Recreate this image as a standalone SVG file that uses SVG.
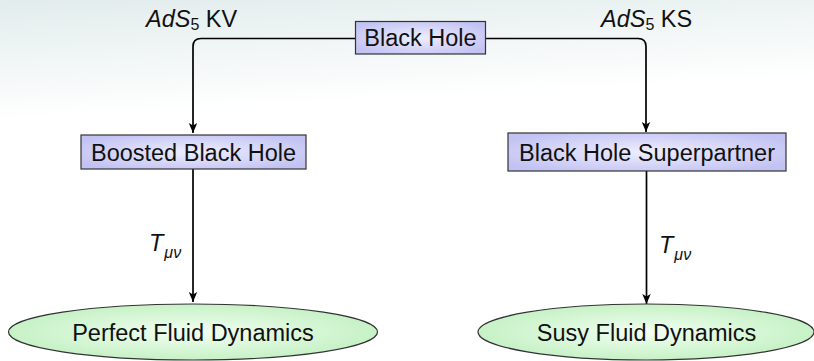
<svg xmlns="http://www.w3.org/2000/svg" width="814" height="361" viewBox="0 0 814 361">
  <defs>
    <linearGradient id="bg" x1="0" y1="0" x2="0.12" y2="1">
      <stop offset="0" stop-color="#e2ecec"/>
      <stop offset="0.33" stop-color="#ffffff"/>
      <stop offset="1" stop-color="#ffffff"/>
    </linearGradient>
    <radialGradient id="boxFill" cx="0.5" cy="0.5" r="0.6">
      <stop offset="0" stop-color="#eeeeff"/>
      <stop offset="1" stop-color="#c2c2f3"/>
    </radialGradient>
    <radialGradient id="fluidFill" cx="0.5" cy="0.5" r="0.55">
      <stop offset="0" stop-color="#f2fff2"/>
      <stop offset="1" stop-color="#c2f0c2"/>
    </radialGradient>
    <marker id="arrow" viewBox="0 0 10 10" refX="10" refY="5" markerWidth="10" markerHeight="10" markerUnits="userSpaceOnUse" orient="auto">
      <path d="M0,0.8 L10,5 L0,9.2 L2.6,5 Z" fill="#000"/>
    </marker>
  </defs>
  <style>
    text { font-family: "Liberation Sans", Arial, sans-serif; fill: #111; }
    .node { font-size: 23.5px; text-anchor: middle; }
    .box { fill: url(#boxFill); stroke: #333; stroke-width: 1.2; }
    .fluid { fill: url(#fluidFill); stroke: #333; stroke-width: 1.2; }
    .edge { fill: none; stroke: #000; stroke-width: 1.7; }
    .lbl { font-size: 23.5px; }
    .it { font-style: italic; }
    .sub { font-size: 16px; }
  </style>

  <rect x="0" y="0" width="814" height="361" fill="url(#bg)"/>

  <g id="connectors">
    <path class="edge" d="M355,38.5 H201 Q193,38.5 193,46.5 V133" marker-end="url(#arrow)"/>
    <path class="edge" d="M486,38.5 H638 Q646,38.5 646,46.5 V132" marker-end="url(#arrow)"/>
    <path class="edge" d="M193,169 V302" marker-end="url(#arrow)"/>
    <path class="edge" d="M646.5,171 V304" marker-end="url(#arrow)"/>
    <text class="lbl" x="146" y="27"><tspan class="it">AdS</tspan><tspan class="sub" dy="2.5">5</tspan><tspan dy="-2.5"> KV</tspan></text>
    <text class="lbl" x="601" y="27"><tspan class="it">AdS</tspan><tspan class="sub" dy="2.5">5</tspan><tspan dy="-2.5"> KS</tspan></text>
    <text class="lbl" x="149" y="251"><tspan class="it">T</tspan><tspan class="sub it" dy="7" dx="1">μν</tspan></text>
    <text class="lbl" x="659" y="253"><tspan class="it">T</tspan><tspan class="sub it" dy="7" dx="1">μν</tspan></text>
  </g>

  <g id="black-hole">
    <rect class="box" x="355.5" y="21.5" width="130" height="32.5"/>
    <text class="node" x="420.5" y="46">Black Hole</text>
  </g>

  <g id="boosted-black-hole">
    <rect class="box" x="81" y="135" width="225" height="34"/>
    <text class="node" x="193.5" y="160.5">Boosted Black Hole</text>
  </g>

  <g id="black-hole-superpartner">
    <rect class="box" x="508" y="133" width="278" height="38"/>
    <text class="node" x="647" y="160.5">Black Hole Superpartner</text>
  </g>

  <g id="perfect-fluid-dynamics">
    <ellipse class="fluid" cx="193" cy="332" rx="184.5" ry="28"/>
    <text class="node" x="193" y="340.5">Perfect Fluid Dynamics</text>
  </g>

  <g id="susy-fluid-dynamics">
    <ellipse class="fluid" cx="646" cy="332" rx="168" ry="28"/>
    <text class="node" x="646.5" y="340.5">Susy Fluid Dynamics</text>
  </g>
</svg>
